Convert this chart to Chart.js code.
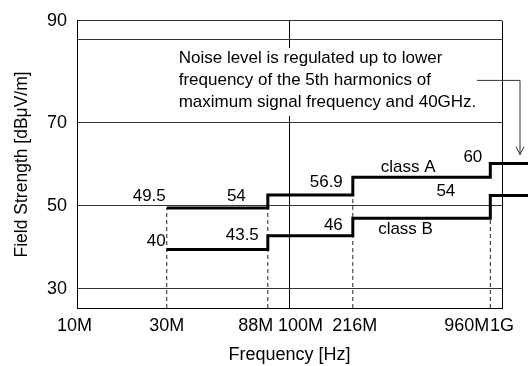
<!DOCTYPE html>
<html>
<head>
<meta charset="utf-8">
<script src="https://cdn.jsdelivr.net/npm/chart.js@4/dist/chart.umd.min.js"></script>
<style>
  html, body { margin: 0; padding: 0; background: #fff; }
  #wrap { width: 528px; height: 366px; position: relative; }
</style>
</head>
<body>
<div id="wrap"><canvas id="c" width="528" height="366"></canvas></div>
<script>
// ---------- data ----------
const stepFreqs   = [30e6, 88e6, 216e6, 960e6, 2e9];     // Hz, step starts (last = beyond the plot edge)
const classA      = [49.5, 52.6, 56.9, 60.2, 60.2];        // dBuV/m (drawn levels)
const classB      = [39.5, 42.8, 47.0, 52.5, 52.5];
const classALabels = ['49.5', '54', '56.9', '60'];
const classBLabels = ['40', '43.5', '46', '54'];
const dropFreqs   = [30e6, 88e6, 216e6, 960e6];            // dashed verticals
const dropTops    = [49.5, 49.5, 52.6, 47.0];
const xTickValues = [10e6, 30e6, 88e6, 100e6, 216e6, 960e6, 1e9];
const xTickLabels = ['10M', '30M', '88M', '100M', '216M', '960M', '1G'];
const yTickValues = [30, 50, 70, 90];
const yTickLabels = ['30', '50', '70', '90'];
const noteLines = ['Noise level is regulated up to lower',
                   'frequency of the 5th harmonics of',
                   'maximum signal frequency and 40GHz.'];

// ---------- layout of the original drawing (style only) ----------
const warpFractions = [0, 0.2112, 0.449, 0.4999, 0.649, 0.9725, 1];
const xLabelShift   = [-2.5, 0, -12, 11, 2, -23.5, 0];
const Y_MIN = 25.4, Y_MAX = 94.6;
const FONT = "'Liberation Sans', Arial, sans-serif";

function warpFrac(v) {
  const l = Math.log10(v);
  const L = xTickValues.map(Math.log10);
  if (l <= L[0]) return warpFractions[0] + (l - L[0]) * 0.5;
  if (l >= L[L.length - 1]) return 1 + (l - L[L.length - 1]) * 0.5;
  for (let i = 0; i < L.length - 1; i++) {
    if (l <= L[i + 1]) {
      const t = (l - L[i]) / (L[i + 1] - L[i]);
      return warpFractions[i] + t * (warpFractions[i + 1] - warpFractions[i]);
    }
  }
  return 1;
}
function unwarp(f) {
  const L = xTickValues.map(Math.log10);
  if (f <= 0) return Math.pow(10, L[0] + f / 0.5);
  if (f >= 1) return Math.pow(10, L[L.length - 1] + (f - 1) / 0.5);
  for (let i = 0; i < L.length - 1; i++) {
    if (f <= warpFractions[i + 1]) {
      const t = (f - warpFractions[i]) / (warpFractions[i + 1] - warpFractions[i]);
      return Math.pow(10, L[i] + t * (L[i + 1] - L[i]));
    }
  }
  return Math.pow(10, L[L.length - 1]);
}

class WarpLogScale extends Chart.LogarithmicScale {
  getPixelForValue(v) {
    if (v === null || v === undefined || isNaN(v)) return NaN;
    return this.getPixelForDecimal(warpFrac(v));
  }
  getValueForPixel(p) {
    return unwarp(this.getDecimalForPixel(p));
  }
  _computeLabelItems(chartArea) {
    const items = super._computeLabelItems(chartArea);
    items.forEach((it, i) => {
      const idx = xTickValues.indexOf(this.ticks[i] ? this.ticks[i].value : NaN);
      if (idx >= 0 && it.options && it.options.translation) {
        it.options.translation = [it.options.translation[0] + xLabelShift[idx], it.options.translation[1]];
      }
    });
    return items;
  }
}
WarpLogScale.id = 'warplog';
WarpLogScale.defaults = Chart.LogarithmicScale.defaults;
Chart.register(WarpLogScale);

// ---------- datasets ----------
function pts(xs, ys) { return xs.map((x, i) => ({ x: x, y: ys[i] })); }

const datasets = [
  { label: 'class A', data: pts(stepFreqs, classA), borderColor: '#000', borderWidth: 3,
    pointRadius: 0, stepped: 'before', clip: false, fill: false, order: 1 },
  { label: 'class B', data: pts(stepFreqs, classB), borderColor: '#000', borderWidth: 3,
    pointRadius: 0, stepped: 'before', clip: false, fill: false, order: 1 }
];
dropFreqs.forEach((f, i) => {
  datasets.push({ label: 'drop' + i, data: [{ x: f, y: Y_MIN }, { x: f, y: dropTops[i] }],
    borderColor: '#222', borderWidth: 1, borderDash: [4, 3], pointRadius: 0, fill: false, order: 2 });
});

// label placement (style only)
const aPlace = [ { xi: 0, yi: 0, dx: -1, dy: -12, align: 'right' },
                 { xi: 1, yi: 0, dx: -22, dy: -12, align: 'right' },
                 { xi: 2, yi: 1, dx: -10, dy: -12.5, align: 'right' },
                 { xi: 3, yi: 2, dx: -8, dy: -19.5, align: 'right' } ];
const bPlace = [ { xi: 0, yi: 0, dx: -1, dy: -8, align: 'right' },
                 { xi: 1, yi: 0, dx: -9, dy: -13.7, align: 'right' },
                 { xi: 2, yi: 1, dx: -10, dy: -10, align: 'right' },
                 { xi: 3, yi: 3, dx: -35, dy: -4, align: 'right' } ];

const labelPlugin = {
  id: 'labels',
  afterDraw(chart) {
    const ctx = chart.ctx, xs = chart.scales.x, ys = chart.scales.y, ca = chart.chartArea;
    ctx.save();
    ctx.fillStyle = '#000';
    ctx.font = '17px ' + FONT;
    ctx.textBaseline = 'middle';
    const put = (txt, p, vals) => {
      ctx.textAlign = p.align;
      ctx.fillText(txt, xs.getPixelForValue(stepFreqs[p.xi]) + p.dx, ys.getPixelForValue(vals[p.yi]) + p.dy);
    };
    classALabels.forEach((t, i) => put(t, aPlace[i], classA));
    classBLabels.forEach((t, i) => put(t, bPlace[i], classB));
    put('class A', { xi: 2, yi: 2, dx: 28, dy: -10, align: 'left' }, classA);
    put('class B', { xi: 2, yi: 2, dx: 25.3, dy: 11, align: 'left' }, classB);

    // note box
    const y90 = ys.getPixelForValue(90);
    const tx = ca.left + 101.7;
    ctx.fillStyle = '#fff';
    ctx.fillRect(tx - 4, y90 + 8, 310, 68);
    ctx.fillStyle = '#000';
    ctx.textAlign = 'left';
    noteLines.forEach((l, i) => ctx.fillText(l, tx, y90 + 18 + i * 22));

    // arrow
    const ax = ca.right + 17.5, ay = y90 + 40;
    const tipY = ys.getPixelForValue(60.2) - 9;
    ctx.strokeStyle = '#333';
    ctx.lineWidth = 1;
    ctx.beginPath();
    ctx.moveTo(ca.right - 25, ay + 0.5);
    ctx.lineTo(ax + 0.5, ay + 0.5);
    ctx.lineTo(ax + 0.5, tipY);
    ctx.stroke();
    ctx.beginPath();
    ctx.moveTo(ax - 3.5, tipY - 8);
    ctx.lineTo(ax + 0.5, tipY);
    ctx.lineTo(ax + 4.5, tipY - 8);
    ctx.stroke();
    ctx.restore();
  }
};

new Chart(document.getElementById('c'), {
  type: 'line',
  data: { datasets: datasets },
  options: {
    responsive: false,
    animation: false,
    events: [],
    layout: { padding: { left: 0, top: 17, right: 26, bottom: 0 } },
    plugins: { legend: { display: false }, tooltip: { enabled: false } },
    scales: {
      x: {
        type: 'warplog',
        min: xTickValues[0], max: xTickValues[xTickValues.length - 1],
        afterBuildTicks: s => { s.ticks = xTickValues.map(v => ({ value: v })); },
        afterFit: s => { s.height = 58; },
        ticks: {
          autoSkip: false, maxRotation: 0, minRotation: 0, padding: 7,
          color: '#000', font: { family: FONT, size: 18 },
          callback: (v) => { const i = xTickValues.indexOf(v); return i >= 0 ? xTickLabels[i] : ''; }
        },
        grid: {
          drawTicks: false,
          color: c => (c.tick && (c.tick.value === 100e6 || c.tick.value === 1e9)) ? '#000' : 'rgba(0,0,0,0)',
          lineWidth: 1
        },
        border: { display: true, color: '#000', width: 1 },
        title: { display: true, text: 'Frequency [Hz]', color: '#000',
                 font: { family: FONT, size: 18 }, padding: { top: 0, bottom: 0 } }
      },
      y: {
        type: 'linear',
        min: Y_MIN, max: Y_MAX,
        afterBuildTicks: s => { s.ticks = yTickValues.map(v => ({ value: v })).concat([{ value: Y_MAX }]); },
        afterFit: s => { s.width = 77; },
        ticks: {
          padding: 10, color: '#000', font: { family: FONT, size: 18 },
          callback: (v) => {
            if (v === Y_MAX) return yTickLabels[yTickLabels.length - 1];
            const i = yTickValues.indexOf(v);
            return (i >= 0 && i < yTickValues.length - 1) ? yTickLabels[i] : '';
          }
        },
        grid: { drawTicks: false, color: '#333', lineWidth: 1 },
        border: { display: true, color: '#000', width: 1 },
        title: { display: true, text: 'Field Strength [dBμV/m]', color: '#000',
                 font: { family: FONT, size: 17.5 }, padding: { top: 12, bottom: 0 } }
      }
    }
  },
  plugins: [labelPlugin]
});
</script>
</body>
</html>
